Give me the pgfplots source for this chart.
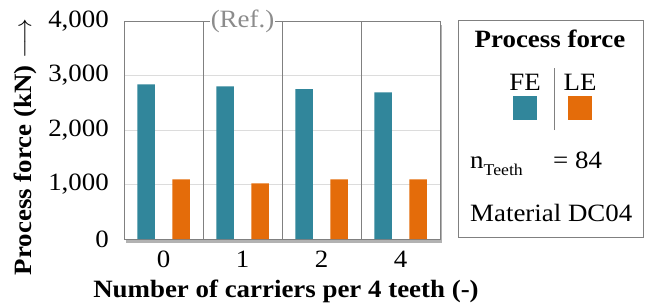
\documentclass[border=0pt]{standalone}
\usepackage{fontspec}
\setmainfont{Liberation Serif}[FakeStretch=1.08]
\usepackage{pgfplots}
\pgfplotsset{compat=1.18}
\usetikzlibrary{shadows}
\definecolor{fe}{RGB}{49,134,155}
\definecolor{le}{RGB}{228,108,10}
\definecolor{frame}{RGB}{128,128,128}
\definecolor{gridc}{RGB}{220,220,220}
\definecolor{reft}{RGB}{140,140,140}

\pgfplotstableread{
x fe le
0 2836 1094
1 2799 1020
2 2751 1094
3 2689 1094
}\forcedata

\begin{document}
\fontsize{25}{30}\selectfont
\begin{tikzpicture}[x=1bp,y=1bp]
\useasboundingbox (0,0) rectangle (647,307);
\begin{axis}[
  at={(124bp,68bp)}, anchor=south west,
  scale only axis, width=316bp, height=218bp,
  xmin=-0.5, xmax=3.5, ymin=0, ymax=4000,
  xtick={0,1,2,3}, xticklabels={0,1,2,4},
  ytick={0,1000,2000,3000,4000},
  /pgf/number format/assume math mode=true,
  /pgf/number format/1000 sep={,},
  scaled y ticks=false,
  major tick length=0pt,
  ymajorgrids,
  major grid style={draw=gridc, line width=0.8pt},
  extra x ticks={0.5,1.5,2.5},
  extra x tick labels={},
  extra x tick style={grid=major, major grid style={draw=frame, line width=0.8pt}},
  axis line style={draw=frame, line width=0.9pt},
  yticklabel style={inner xsep=0pt, xshift=-15bp},
  xticklabel style={inner ysep=0pt, yshift=-12bp},
  axis background/.style={fill=white, drop shadow={shadow xshift=2bp, shadow yshift=-4bp, opacity=0.3, fill=black}},
]
\addplot[ybar, bar width=17.5bp, bar shift=-17.5bp, fill=fe, draw=none] table[x=x, y=fe] {\forcedata};
\addplot[ybar, bar width=17.5bp, bar shift=17.5bp, fill=le, draw=none] table[x=x, y=le] {\forcedata};
\coordinate (ref) at (axis cs:1,4000);
\end{axis}
\node[fill=white, text=reft, inner xsep=1bp, inner ysep=0bp] at (ref) {(Ref.)};
\node[rotate=90, font=\bfseries] at (25,160) {Process force (kN) $\longrightarrow$};
\node[font=\bfseries, inner sep=0pt] at (286,16) {Number of carriers per 4 teeth (-)};
% legend box
\draw[draw=frame, line width=0.9pt] (458,70) rectangle (643,287);
\node[font=\bfseries] at (550,268) {Process force};
\node at (525,225) {FE};
\node at (580,225) {LE};
\fill[fe] (513,187) rectangle (537,211);
\fill[le] (568,187) rectangle (592,211);
\draw[frame, line width=0.8pt] (554,177) -- (554,239);
\node[anchor=base west, inner sep=0pt] at (470,139) {n\raisebox{-7bp}{\fontsize{16.5}{18}\selectfont Teeth}};
\node[anchor=base west, inner sep=0pt] at (553,139) {= 84};
\node[anchor=base west, inner sep=0pt] at (470,86) {Material DC04};
\end{tikzpicture}
\end{document}
